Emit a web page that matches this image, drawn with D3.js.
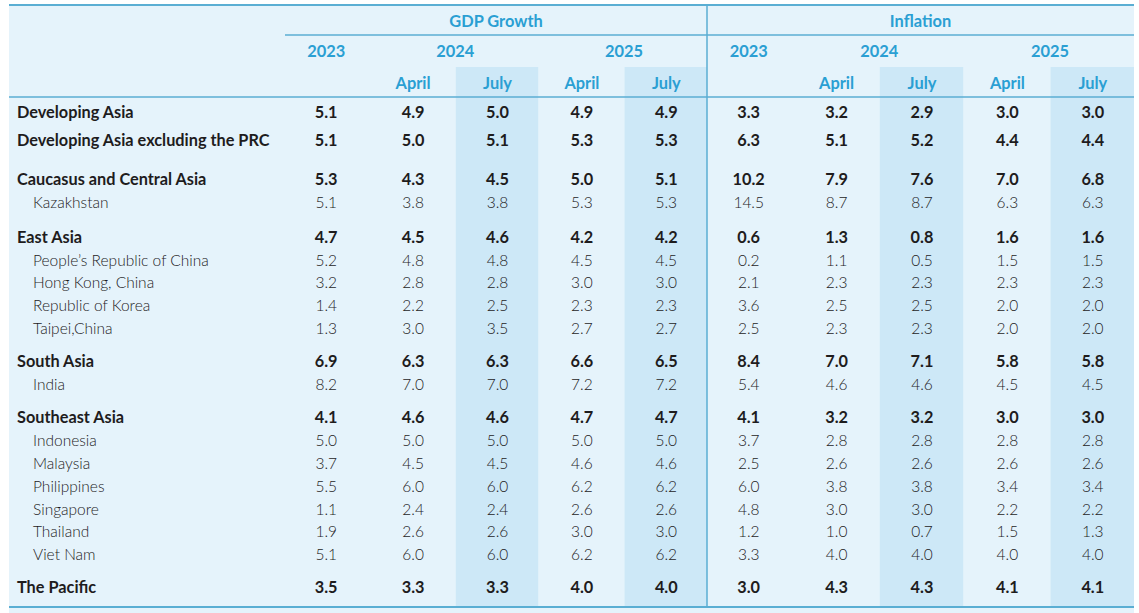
<!DOCTYPE html>
<html><head><meta charset="utf-8">
<script src="https://cdn.jsdelivr.net/npm/d3@7"></script>
<style>
html,body{margin:0;padding:0;background:#fff;}
svg{display:block;font-family:Lato,"Open Sans",sans-serif;}
</style></head><body>
<svg id="c" width="1139" height="613"></svg>
<script>
// ---- data ----
const groups = ["GDP Growth", "Inflation"];
const subCols = ["2023", "2024 April", "2024 July", "2025 April", "2025 July"];
const yearLabels = ["2023", "2024", "2025"];
const monthLabels = ["", "April", "July", "April", "July"];
const rowNames = ["Developing Asia","Developing Asia excluding the PRC","Caucasus and Central Asia","Kazakhstan","East Asia","People\u2019s Republic of China","Hong Kong, China","Republic of Korea","Taipei,China","South Asia","India","Southeast Asia","Indonesia","Malaysia","Philippines","Singapore","Thailand","Viet Nam","The Pacific"];
const rowIsRegion = [1,1,1,0,1,0,0,0,0,1,0,1,0,0,0,0,0,0,1];
const gdpValues = [
 [5.1,4.9,5.0,4.9,4.9],[5.1,5.0,5.1,5.3,5.3],[5.3,4.3,4.5,5.0,5.1],[5.1,3.8,3.8,5.3,5.3],
 [4.7,4.5,4.6,4.2,4.2],[5.2,4.8,4.8,4.5,4.5],[3.2,2.8,2.8,3.0,3.0],[1.4,2.2,2.5,2.3,2.3],[1.3,3.0,3.5,2.7,2.7],
 [6.9,6.3,6.3,6.6,6.5],[8.2,7.0,7.0,7.2,7.2],
 [4.1,4.6,4.6,4.7,4.7],[5.0,5.0,5.0,5.0,5.0],[3.7,4.5,4.5,4.6,4.6],[5.5,6.0,6.0,6.2,6.2],[1.1,2.4,2.4,2.6,2.6],[1.9,2.6,2.6,3.0,3.0],[5.1,6.0,6.0,6.2,6.2],
 [3.5,3.3,3.3,4.0,4.0]];
const inflationValues = [
 [3.3,3.2,2.9,3.0,3.0],[6.3,5.1,5.2,4.4,4.4],[10.2,7.9,7.6,7.0,6.8],[14.5,8.7,8.7,6.3,6.3],
 [0.6,1.3,0.8,1.6,1.6],[0.2,1.1,0.5,1.5,1.5],[2.1,2.3,2.3,2.3,2.3],[3.6,2.5,2.5,2.0,2.0],[2.5,2.3,2.3,2.0,2.0],
 [8.4,7.0,7.1,5.8,5.8],[5.4,4.6,4.6,4.5,4.5],
 [4.1,3.2,3.2,3.0,3.0],[3.7,2.8,2.8,2.8,2.8],[2.5,2.6,2.6,2.6,2.6],[6.0,3.8,3.8,3.4,3.4],[4.8,3.0,3.0,2.2,2.2],[1.2,1.0,0.7,1.5,1.3],[3.3,4.0,4.0,4.0,4.0],
 [3.0,4.3,4.3,4.1,4.1]];

// ---- layout ----
const W = 1139, H = 613;
const tLeft = 9, tRight = 1134, tTop = 5, headBottom = 97, tBottom = 607;
const svg = d3.select("#c");
const blue = "#2a9fd3", lineC = "#5aaed3", bg = "#e5f3fb", shade = "#cde8f7", ink = "#1e1c1d";
const rowGap = [0,6,16,0,12,0,0,0,0,10,0,11,0,0,0,0,0,0,10];
const boldSize = 16.3, lightSize = 15.5, headSize = 16.4;

const groupScale = d3.scaleOrdinal().domain(groups).range([[285,707],[707,tRight]]);
const colScale = g => d3.scaleBand().domain(subCols).range(groupScale(g));
const colCenter = (x,c,j) => x(c) + x.bandwidth()/2 + (j===0 ? -1 : 1.5);

// row positions
let acc = 0;
const rowY = rowNames.map((n,i)=>{ acc += (i===0?0:22.8) + rowGap[i]; return acc; });
const yScale = d3.scaleLinear().domain([0,1]).range([112,113]);

svg.append("rect").attr("x",tLeft).attr("y",tTop).attr("width",tRight-tLeft).attr("height",H-tTop).attr("fill",bg);

// shaded July columns
groups.forEach(g=>{
  const x = colScale(g);
  ["2024 July","2025 July"].forEach(c=>{
    svg.append("rect").attr("x",x(c)+2).attr("y",67).attr("width",x.bandwidth()-2).attr("height",tBottom-67).attr("fill",shade);
  });
});

// lines
const hl = (x1,x2,y,w)=>svg.append("line").attr("x1",x1).attr("x2",x2).attr("y1",y).attr("y2",y).attr("stroke",lineC).attr("stroke-width",w||1.5);
hl(tLeft,tRight,tTop,2);
hl(285,tRight,35,1.5);
hl(tLeft,tRight,headBottom,1.5);
hl(tLeft,tRight,tBottom,2);
svg.append("line").attr("x1",707).attr("x2",707).attr("y1",tTop).attr("y2",tBottom).attr("stroke",lineC).attr("stroke-width",1.5);

// headers
groups.forEach(g=>{
  const r = groupScale(g), x = colScale(g);
  svg.append("text").attr("x",(r[0]+r[1])/2).attr("y",27).attr("text-anchor","middle")
    .attr("fill",blue).attr("font-weight",700).attr("font-size",headSize).text(g);
  const yearPos = [colCenter(x,"2023",0), x("2024 April")+x.bandwidth()+1.5, x("2025 April")+x.bandwidth()+1.5];
  yearLabels.forEach((y,i)=>svg.append("text").attr("x",yearPos[i]).attr("y",57).attr("text-anchor","middle")
    .attr("fill",blue).attr("font-weight",700).attr("font-size",headSize).text(y));
  subCols.forEach((c,i)=>{ if(monthLabels[i]) svg.append("text").attr("x",colCenter(x,c,i)).attr("y",89).attr("text-anchor","middle")
    .attr("fill",blue).attr("font-weight",700).attr("font-size",headSize).text(monthLabels[i]); });
});

// rows
rowNames.forEach((name,i)=>{
  const y = yScale(rowY[i]) + 5.5;
  const reg = rowIsRegion[i];
  const fs = reg ? boldSize : lightSize;
  svg.append("text").attr("x",reg?17:33).attr("y",y).attr("fill",ink)
    .attr("font-weight",reg?700:300).attr("font-size",fs).text(name);
  [[groups[0],gdpValues[i]],[groups[1],inflationValues[i]]].forEach(([g,vals])=>{
    const x = colScale(g);
    vals.forEach((v,j)=>{
      svg.append("text").attr("x",colCenter(x,subCols[j],j)).attr("y",y).attr("text-anchor","middle")
        .attr("fill",ink).attr("font-weight",reg?700:300).attr("font-size",fs).text(d3.format(".1f")(v));
    });
  });
});
</script></body></html>
